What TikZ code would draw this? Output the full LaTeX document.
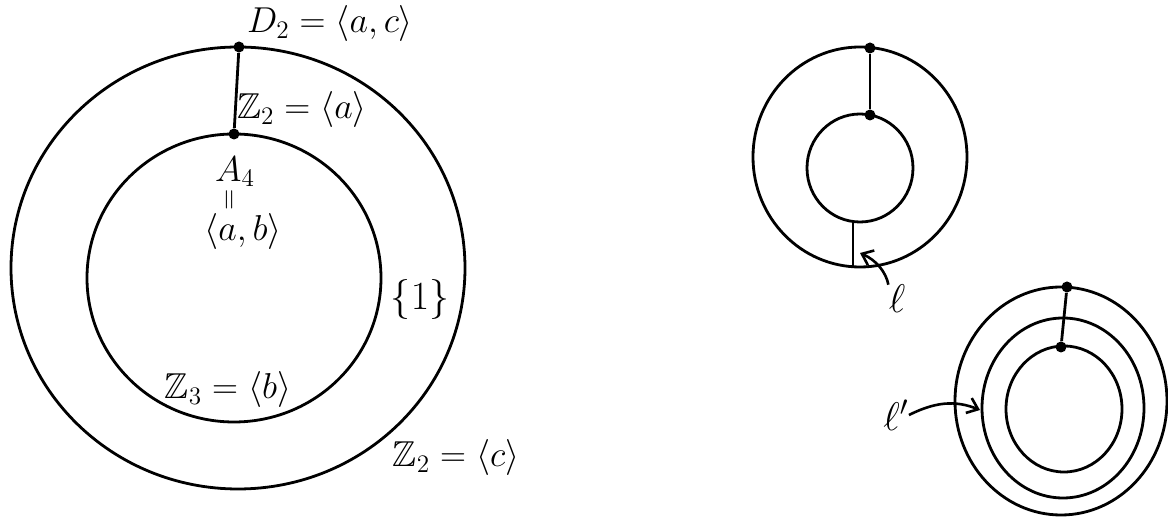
\documentclass[tikz,border=0pt]{standalone}
\usepackage{fix-cm}
\usepackage{amssymb}
\usetikzlibrary{arrows.meta}
\begin{document}
\begin{tikzpicture}[x=0.5pt,y=-0.5pt,
  curve/.style={line width=1.4pt, line join=round},
  dot/.style={circle, fill=black, inner sep=0pt, minimum size=5.5pt},
  lab/.style={font=\fontsize{18}{22}\selectfont, inner sep=0pt},
  pointer/.style={line width=1.3pt, -{Straight Barb[length=5pt,width=8pt]}}]
\useasboundingbox (0,0) rectangle (1168,517);

% ---------------- left figure ----------------
\draw[curve] (238,268) ellipse [x radius=227, y radius=221];
\draw[curve] (234,278) ellipse [x radius=147, y radius=144];
\node[dot] (Ltop) at (239,47) {};
\node[dot] (Lin) at (234,134) {};
\draw[curve] (Ltop) -- (Lin);

\node[lab] (D2) at (330,24) {$D_2=\langle a,c\rangle$};
\node[lab] (Z2a) at (302,110) {$\mathbb{Z}_2=\langle a\rangle$};
\node[lab] (A4) at (235,172) {$A_4$};
\node[lab, rotate=90, font=\fontsize{14}{16}\selectfont] (eq) at (231,200) {$=$};
\node[lab] (ab) at (243,232) {$\langle a,b\rangle$};
\node[lab, font=\fontsize{20}{24}\selectfont] (one) at (420,300) {$\{1\}$};
\node[lab] (Z3) at (228,390) {$\mathbb{Z}_3=\langle b\rangle$};
\node[lab] (Z2c) at (456,458) {$\mathbb{Z}_2=\langle c\rangle$};

% ---------------- right top figure ----------------
\draw[curve] (860,157) ellipse [x radius=107, y radius=110];
\draw[curve] (860,168) ellipse [x radius=53, y radius=54];
\node[dot] (Rtop) at (870,48) {};
\node[dot] (Rin) at (870,115) {};
\draw[curve] (Rtop) -- (Rin);
\coordinate (la) at (853,222);
\coordinate (lb) at (853,267);
\draw[curve] (la) -- (lb);
\node[lab, font=\fontsize{20}{24}\selectfont] (ell) at (897,299) {$\ell$};
\coordinate (lt) at (860,253);
\draw[pointer] (ell.north west) .. controls (886,272) and (876,260) .. (lt);

% ---------------- right bottom figure ----------------
\draw[curve] (1061,401) ellipse [x radius=106, y radius=114];
\draw[curve] (1063,408) ellipse [x radius=81, y radius=90];
\draw[curve] (1064,409) ellipse [x radius=58, y radius=63];
\node[dot] (Btop) at (1067,287) {};
\node[dot] (Bin) at (1061,347) {};
\draw[curve] (Btop) -- (Bin);
\node[lab, font=\fontsize{20}{24}\selectfont] (ellp) at (896,415) {$\ell'$};
\coordinate (lpt) at (980,410);
\draw[pointer] (ellp.east) .. controls (935,402) and (955,400) .. (lpt);
\end{tikzpicture}
\end{document}
